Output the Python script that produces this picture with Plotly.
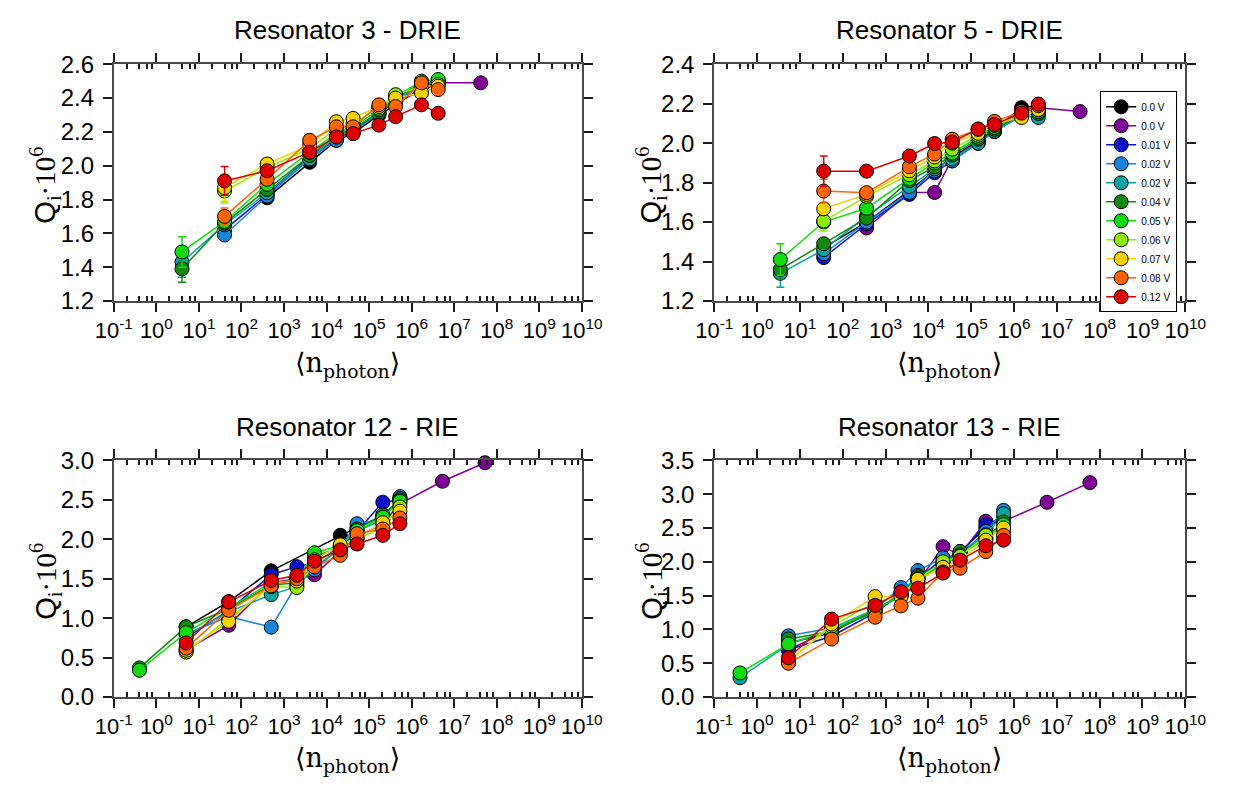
import plotly.graph_objects as go

# ---------------- data ----------------
LABELS = ["0.0 V", "0.0 V", "0.01 V", "0.02 V", "0.02 V", "0.04 V",
          "0.05 V", "0.06 V", "0.07 V", "0.08 V", "0.12 V"]
COLORS = ["#000000", "#7f0094", "#0a10c8", "#1a84dc", "#0aa3a3", "#0f8a0f",
          "#10dc10", "#8ef000", "#f6d200", "#ff6400", "#dc0000"]

TITLES = ["Resonator 3 - DRIE", "Resonator 5 - DRIE",
          "Resonator 12 - RIE", "Resonator 13 - RIE"]

X_TICKVALS = [0.1, 1, 10, 1e2, 1e3, 1e4, 1e5, 1e6, 1e7, 1e8, 1e9, 1e10]
X_TICKTEXT = ["10<sup>-1</sup>", "10<sup>0</sup>", "10<sup>1</sup>", "10<sup>2</sup>",
              "10<sup>3</sup>", "10<sup>4</sup>", "10<sup>5</sup>", "10<sup>6</sup>",
              "10<sup>7</sup>", "10<sup>8</sup>", "10<sup>9</sup>", "10<sup>10</sup>"]
X_MINOR = [m * 10.0 ** e for e in range(-1, 10) for m in (2, 4, 6, 8)]

Y_TICKS_R3 = [1.2, 1.4, 1.6, 1.8, 2.0, 2.2, 2.4, 2.6]
Y_TICKS_R5 = [1.2, 1.4, 1.6, 1.8, 2.0, 2.2, 2.4]
Y_TICKS_R12 = [0.0, 0.5, 1.0, 1.5, 2.0, 2.5, 3.0]
Y_TICKS_R13 = [0.0, 0.5, 1.0, 1.5, 2.0, 2.5, 3.0, 3.5]

# Resonator 3 - DRIE
X_R3 = [4, 40, 400, 4000, 17000, 42000, 170000, 420000, 1.7e6, 4.2e6, 4.2e7]
Q_R3 = [
    [None, None, 1.81, 2.02, 2.15, 2.19, 2.30, 2.36, 2.46, 2.49, None],   # 0.0 V black
    [None, None, 1.84, 2.05, 2.16, 2.20, 2.31, 2.38, 2.44, 2.49, 2.49],   # 0.0 V purple
    [None, 1.62, 1.83, 2.05, 2.16, 2.20, 2.31, 2.38, 2.47, 2.49, None],   # 0.01 V
    [None, 1.59, 1.82, 2.04, 2.15, 2.20, 2.31, 2.38, 2.48, 2.50, None],   # 0.02 V
    [1.43, 1.65, 1.84, 2.04, 2.17, 2.21, 2.32, 2.39, 2.48, 2.50, None],   # 0.02 V
    [1.39, 1.66, 1.86, 2.06, 2.18, 2.22, 2.31, 2.40, 2.49, 2.50, None],   # 0.04 V
    [1.49, 1.67, 1.89, 2.08, 2.19, 2.23, 2.33, 2.41, 2.50, 2.51, None],   # 0.05 V
    [None, 1.85, 1.99, 2.10, 2.22, 2.25, 2.34, 2.42, 2.47, 2.48, None],   # 0.06 V
    [None, 1.87, 2.01, 2.12, 2.26, 2.28, 2.35, 2.40, 2.43, 2.47, None],   # 0.07 V
    [None, 1.70, 1.92, 2.15, 2.23, 2.23, 2.36, 2.35, 2.49, 2.45, None],   # 0.08 V
    [None, 1.91, 1.97, 2.08, 2.17, 2.19, 2.24, 2.29, 2.36, 2.31, None],   # 0.12 V
]
ERR_R3 = [(4, 0, 0.09), (5, 0, 0.08), (6, 0, 0.09), (7, 1, 0.07),
          (8, 1, 0.08), (9, 1, 0.05), (10, 1, 0.085)]

# Resonator 5 - DRIE
X_R5 = [3.5, 36, 360, 3600, 14000, 36000, 145000, 350000, 1.5e6, 3.7e6, 3.5e7]
Q_R5 = [
    [None, 1.47, 1.60, 1.76, 1.86, 1.93, 2.01, 2.07, 2.18, 2.19, None],
    [None, None, 1.57, 1.75, 1.75, 1.92, 2.01, 2.06, 2.15, 2.18, 2.16],
    [None, 1.42, 1.59, 1.74, 1.85, 1.91, 2.00, 2.06, 2.14, 2.16, None],
    [None, 1.44, 1.60, 1.75, 1.86, 1.91, 2.00, 2.06, 2.14, 2.15, None],
    [1.34, 1.46, 1.63, 1.78, 1.87, 1.92, 2.00, 2.06, 2.14, 2.13, None],
    [1.36, 1.49, 1.62, 1.81, 1.88, 1.94, 2.02, 2.07, 2.15, 2.15, None],
    [1.41, 1.60, 1.67, 1.82, 1.90, 1.95, 2.03, 2.08, 2.16, 2.16, None],
    [None, 1.605, 1.73, 1.84, 1.91, 1.97, 2.04, 2.09, 2.15, 2.17, None],
    [None, 1.667, 1.74, 1.86, 1.93, 2.00, 2.05, 2.10, 2.13, 2.17, None],
    [None, 1.757, 1.749, 1.88, 1.945, 2.02, 2.07, 2.11, 2.16, 2.19, None],
    [None, 1.858, 1.858, 1.935, 1.998, 2.005, 2.072, 2.095, 2.152, 2.198, None],
]
ERR_R5 = [(4, 0, 0.07), (5, 0, 0.05), (6, 0, 0.08), (7, 1, 0.05),
          (9, 1, 0.06), (10, 1, 0.077)]

# Resonator 12 - RIE
X_R12 = [0.4, 5, 50, 500, 2000, 5200, 21000, 52000, 210000, 530000, 5.3e6, 5.3e7]
Q_R12 = [
    [None, 0.89, 1.21, 1.60, None, None, 2.05, 2.15, 2.30, 2.50, None, None],
    [None, 0.60, 0.91, 1.45, 1.50, 1.551, 1.85, 2.03, 2.20, 2.45, 2.735, 2.97],
    [None, 0.75, 1.10, 1.55, 1.653, 1.70, 1.90, 2.10, 2.47, 2.50, None, None],
    [None, 0.80, 1.02, 0.886, 1.43, 1.613, 1.90, 2.197, 2.25, 2.54, None, None],
    [None, 0.78, 1.08, 1.298, 1.40, 1.65, 1.88, 2.10, 2.25, 2.52, None, None],
    [0.37, 0.89, 1.12, 1.42, 1.45, 1.78, 1.90, 2.13, 2.31, 2.50, None, None],
    [0.34, 0.816, 1.13, 1.45, 1.48, 1.829, 1.92, 2.11, 2.28, 2.48, None, None],
    [None, 0.57, 1.00, 1.40, 1.388, 1.70, 1.88, 2.00, 2.15, 2.41, None, None],
    [None, 0.593, 0.96, 1.44, 1.47, 1.74, 1.93, 2.02, 2.21, 2.355, None, None],
    [None, 0.62, 1.10, 1.41, 1.50, 1.65, 1.796, 2.07, 2.13, 2.27, None, None],
    [None, 0.686, 1.205, 1.478, 1.543, 1.723, 1.866, 1.94, 2.05, 2.197, None, None],
]
ERR_R12 = [(2, 8, 0.05)]

# Resonator 13 - RIE
X_R13 = [0.4, 5.4, 55, 570, 2300, 5700, 22000, 55000, 220000, 570000, 5.9e6, 5.9e7]
Q_R13 = [
    [None, 0.80, 0.95, 1.30, 1.50, 1.70, 2.00, 2.15, 2.50, 2.65, None, None],
    [None, 0.70, 1.00, 1.30, 1.50, 1.70, 2.224, 2.10, 2.60, 2.60, 2.88, 3.17],
    [None, 0.70, 0.90, 1.25, 1.52, 1.75, 2.05, 2.12, 2.548, 2.60, None, None],
    [None, 0.906, 1.02, 1.30, 1.62, 1.871, 2.06, 2.10, 2.45, 2.76, None, None],
    [0.286, 0.78, 1.00, 1.25, 1.55, 1.80, 1.95, 2.12, 2.40, 2.71, None, None],
    [None, 0.86, 0.97, 1.28, 1.52, 1.78, 1.98, 2.153, 2.35, 2.59, None, None],
    [0.357, 0.786, 1.00, 1.30, 1.50, 1.75, 1.95, 2.10, 2.35, 2.55, None, None],
    [None, 0.53, 1.048, 1.40, 1.50, 1.75, 2.00, 2.08, 2.39, 2.45, None, None],
    [None, 0.524, 1.08, 1.486, 1.48, 1.74, 1.92, 2.02, 2.32, 2.50, None, None],
    [None, 0.50, 0.857, 1.181, 1.348, 1.462, 1.85, 1.905, 2.15, 2.39, None, None],
    [None, 0.581, 1.153, 1.357, 1.557, 1.61, 1.834, 2.024, 2.238, 2.32, None, None],
]
ERR_R13 = [(1, 8, 0.08)]

PANELS = [
    (X_R3, Q_R3, ERR_R3, Y_TICKS_R3),
    (X_R5, Q_R5, ERR_R5, Y_TICKS_R5),
    (X_R12, Q_R12, ERR_R12, Y_TICKS_R12),
    (X_R13, Q_R13, ERR_R13, Y_TICKS_R13),
]

# ---------------- layout geometry ----------------
W, H = 1246, 798
XDOM = [[98 / W, 581.5 / W], [718.3 / W, 1205 / W]]
YDOM = [[1 - 297 / H, 1 - 52 / H], [1 - 707 / H, 1 - 462 / H]]

fig = go.Figure()

for p, (xs, qs, errs, yt) in enumerate(PANELS):
    ax = "" if p == 0 else str(p + 1)
    for s, ys in enumerate(qs):
        earr = [None] * len(xs)
        for (si, pi, e) in errs:
            if si == s:
                earr[pi] = e
        has_err = any(e is not None for e in earr)
        fig.add_trace(go.Scatter(
            x=xs, y=ys, xaxis="x" + ax, yaxis="y" + ax,
            mode="lines+markers", connectgaps=True, cliponaxis=False,
            name=LABELS[s], showlegend=(p == 1),
            line=dict(color=COLORS[s], width=1.5),
            marker=dict(size=14, color=COLORS[s], line=dict(color="black", width=1)),
            error_y=dict(type="data", array=[e if e is not None else 0 for e in earr],
                         visible=has_err, color=COLORS[s], thickness=1.5, width=4),
        ))

AXC = "#4a4a4a"
TKC = "#1a1a1a"
layout = dict(
    width=W, height=H, margin=dict(l=0, r=0, t=0, b=0),
    plot_bgcolor="white", paper_bgcolor="white",
    font=dict(family="Liberation Sans, Arial, sans-serif", color="black"),
    legend=dict(x=1117 / W, y=1 - 80 / H, xanchor="left", yanchor="top",
                bgcolor="white", bordercolor="black", borderwidth=1,
                font=dict(size=10, family="Liberation Sans"),
                itemwidth=30, tracegroupgap=0),
)
for p, (xs, qs, errs, yt) in enumerate(PANELS):
    ax = "" if p == 0 else str(p + 1)
    col, row = p % 2, p // 2
    layout["xaxis" + ax] = dict(
        domain=XDOM[col], anchor="y" + ax, type="log", range=[-1, 10],
        tickmode="array", tickvals=X_TICKVALS, ticktext=X_TICKTEXT,
        showline=True, linecolor=AXC, linewidth=2, mirror="ticks",
        ticks="outside", ticklen=9, tickwidth=1.5, tickcolor=TKC,
        tickfont=dict(size=22, family="Liberation Sans", color="black"),
        showgrid=False, zeroline=False,
        minor=dict(tickmode="array", tickvals=X_MINOR, ticks="inside",
                   ticklen=5, tickwidth=1.5, tickcolor=TKC, showgrid=False),
    )
    layout["yaxis" + ax] = dict(
        domain=YDOM[row], anchor="x" + ax, range=[yt[0], yt[-1]],
        tickmode="array", tickvals=yt, ticktext=["%.1f" % v for v in yt],
        showline=True, linecolor=AXC, linewidth=2, mirror="ticks",
        ticks="outside", ticklen=9, tickwidth=1.5, tickcolor=TKC,
        ticklabelstandoff=4,
        tickfont=dict(size=24, family="Liberation Sans", color="black"),
        showgrid=False, zeroline=False,
    )
fig.update_layout(**layout)

ann = []
TITLE_Y = [1 - 17 / H, 1 - 427 / H]
XT_Y = [1 - 363 / H, 1 - 772 / H]
YT_X = [27 / W, 653 / W]
for p in range(4):
    col, row = p % 2, p // 2
    xc = (XDOM[col][0] + XDOM[col][1]) / 2
    yc = (YDOM[row][0] + YDOM[row][1]) / 2
    ann.append(dict(text=TITLES[p], x=xc, y=TITLE_Y[row], xref="paper", yref="paper",
                    showarrow=False, xanchor="center", yanchor="middle",
                    font=dict(size=26, family="Liberation Sans", color="black")))
    ann.append(dict(text="⟨n<sub>photon</sub>⟩", x=xc, y=XT_Y[row], xref="paper",
                    yref="paper", showarrow=False, xanchor="center", yanchor="middle",
                    font=dict(size=27, family="DejaVu Serif, Liberation Serif, serif",
                              color="black")))
    ann.append(dict(text='<span style="font-family:Liberation Sans">Q</span><sub>i</sub>·10<sup>6</sup>',
                    x=YT_X[col], y=yc - 3 / H, xref="paper", yref="paper", textangle=-90,
                    showarrow=False, xanchor="center", yanchor="middle",
                    font=dict(size=29, family="Liberation Serif, serif", color="black")))
fig.update_layout(annotations=ann)

fig.write_html("out.html")
